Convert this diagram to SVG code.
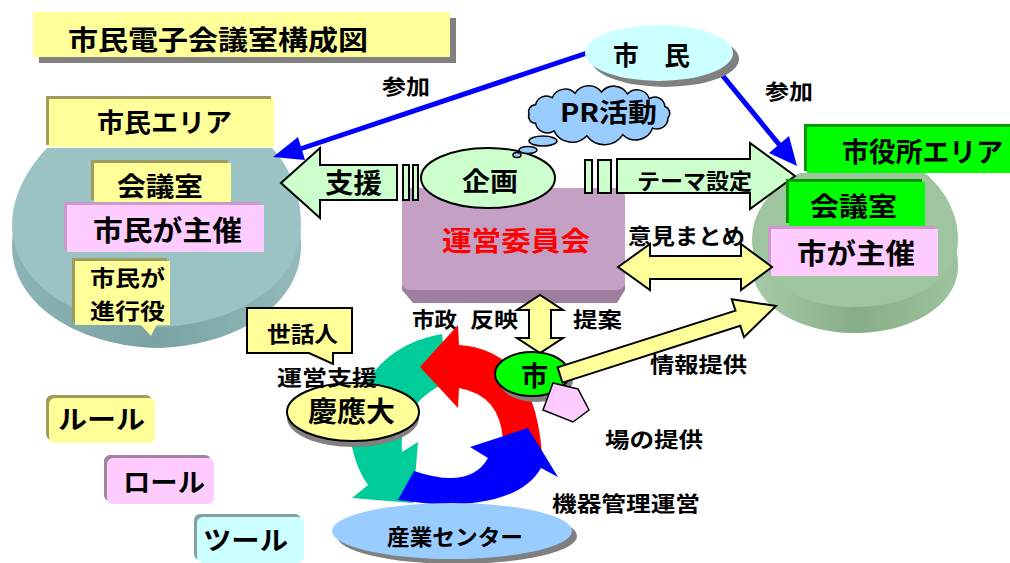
<svg xmlns="http://www.w3.org/2000/svg" width="1010" height="563" viewBox="0 0 1010 563">
<defs>
<style>
.t{font-family:"Noto Sans CJK JP","Noto Sans CJK SC",sans-serif;font-weight:700;fill:#000}
.ln{stroke:#000;stroke-width:2;stroke-linejoin:miter}
.yel{fill:#FFFF99}
.pnk{fill:#FFCCFF}
.lg{fill:#CCFFCC}
.olv{fill:#A09C5C}
.shd{fill:#808080}
.blue{stroke:#0000FF;stroke-width:5;fill:none}
</style>
<linearGradient id="rimL" x1="0" y1="0" x2="1" y2="0">
<stop offset="0" stop-color="#8DB4B4"/><stop offset="0.5" stop-color="#7AA2A2"/><stop offset="1" stop-color="#94BABA"/>
</linearGradient>
<linearGradient id="rimR" x1="0" y1="0" x2="1" y2="0">
<stop offset="0" stop-color="#A8CBA8"/><stop offset="0.5" stop-color="#86AE86"/><stop offset="1" stop-color="#9EC29E"/>
</linearGradient>
</defs>

<g id="citizen-area-disk">
<path transform="translate(0,21)" fill="url(#rimL)" d="M47,148 L272,148 C288,165 301,192 301,225 C301,285 235,325 157,327 C80,325 12,285 12,225 C12,195 28,168 47,148 Z"/>
<path fill="#9CC3C3" d="M47,148 L272,148 C288,165 301,192 301,225 C301,285 235,325 157,327 C80,325 12,285 12,225 C12,195 28,168 47,148 Z"/>
</g>
<g id="cityhall-area-disk">
<path transform="translate(0,26)" fill="url(#rimR)" d="M800,173 L925,173 C945,190 958,213 958,240 C958,280 910,307 855,307 C800,307 752,280 752,240 C752,213 768,190 800,173 Z"/>
<path fill="#9FC59F" d="M800,173 L925,173 C945,190 958,213 958,240 C958,280 910,307 855,307 C800,307 752,280 752,240 C752,213 768,190 800,173 Z"/>
</g>

<g id="title">
<rect class="shd" x="39" y="18" width="417" height="45"/>
<rect class="yel" x="33" y="12" width="417" height="45"/>
<text class="t" x="68" y="50" font-size="27" textLength="300" lengthAdjust="spacingAndGlyphs">市民電子会議室構成図</text>
</g>

<g id="connectors">
<line class="blue" x1="590" y1="52" x2="300" y2="149"/>
<polygon fill="#0000FF" points="273,157 305,160 298,137"/>
<line class="blue" x1="718" y1="70" x2="782" y2="148"/>
<polygon fill="#0000FF" points="797,166 789,136 769,153"/>
</g>

<g id="citizen">
<ellipse class="shd" cx="665" cy="59" rx="74" ry="28"/>
<ellipse fill="#CCFFFF" cx="659" cy="53" rx="74" ry="28"/>
<text class="t" x="613" y="65" font-size="26" textLength="77" lengthAdjust="spacingAndGlyphs">市　民</text>
</g>

<g id="label-sanka">
<text class="t" x="382" y="94" font-size="21" textLength="48" lengthAdjust="spacingAndGlyphs">参加</text>
<text class="t" x="765" y="99" font-size="21" textLength="48" lengthAdjust="spacingAndGlyphs">参加</text>
</g>

<g id="citizen-area">
<rect class="olv" x="46" y="96" width="225" height="49"/>
<rect class="yel" x="49" y="99" width="225" height="48"/>
<text class="t" x="97" y="132" font-size="26" textLength="135" lengthAdjust="spacingAndGlyphs">市民エリア</text>
</g>
<g id="citizen-room">
<rect class="olv" x="91" y="160" width="137" height="40"/>
<rect class="yel" x="94" y="163" width="137" height="40"/>
<text class="t" x="117" y="196" font-size="26" textLength="86" lengthAdjust="spacingAndGlyphs">会議室</text>
</g>
<g id="citizen-host">
<rect fill="#CC99CC" x="64" y="202" width="197" height="47"/>
<rect class="pnk" x="67" y="205" width="197" height="47"/>
<text class="t" x="93" y="241" font-size="28" textLength="149" lengthAdjust="spacingAndGlyphs">市民が主催</text>
</g>
<g id="citizen-facilitator">
<rect class="olv" x="72" y="258" width="95" height="64"/>
<rect class="yel" x="75" y="261" width="95" height="64"/>
<polygon class="yel" points="140,324 151,336 157,324"/>
<text class="t" x="90" y="286" font-size="22" textLength="75" lengthAdjust="spacingAndGlyphs">市民が</text>
<text class="t" x="90" y="319" font-size="22" textLength="75" lengthAdjust="spacingAndGlyphs">進行役</text>
</g>

<g id="committee">
<polygon fill="#9E7E9E" points="402,284 625,284 625,290 617,303 413,303 402,290"/>
<rect fill="#C4A0C4" x="402" y="188" width="223" height="102" rx="8"/>
<text x="442" y="251" font-size="27" class="t" style="fill:#FF0000" textLength="148" lengthAdjust="spacingAndGlyphs">運営委員会</text>
</g>

<g id="support-arrow">
<polygon class="lg ln" points="281,183 320,148 320,165 397,165 397,200 320,200 320,218"/>
<text class="t" x="325" y="193" font-size="27" textLength="57" lengthAdjust="spacingAndGlyphs">支援</text>
<rect class="lg ln" x="403" y="165" width="6" height="35"/>
<rect class="lg ln" x="413" y="165" width="5" height="35"/>
</g>

<g id="planning">
<ellipse class="lg ln" cx="488" cy="178" rx="67" ry="30"/>
<text class="t" x="462" y="191" font-size="26" textLength="56" lengthAdjust="spacingAndGlyphs">企画</text>
</g>

<g id="theme-arrow">
<rect class="lg ln" x="585" y="160" width="7" height="33"/>
<rect class="lg ln" x="598" y="160" width="13" height="33"/>
<polygon class="lg ln" points="617,159 750,159 750,143 795,176 750,209 750,193 617,193"/>
<text class="t" x="637" y="189" font-size="22" textLength="115" lengthAdjust="spacingAndGlyphs">テーマ設定</text>
</g>

<g id="pr-cloud">
<path fill="#99CCFF" stroke="#000" stroke-width="1.5" d="M529,114 A7,7 0 0 1 535.6,104.7 A11,11 0 0 1 552.2,97.7 A14,14 0 0 1 575.1,93.3 A16,16 0 0 1 601.4,92 A16,16 0 0 1 627.5,93.9 A13,13 0 0 1 649.3,98.7 A10,10 0 0 1 664.8,106.5 A7,7 0 0 1 668,117.8 A11,11 0 0 1 652.6,128.1 A18,18 0 0 1 622.9,134.7 A22,22 0 0 1 586.8,135.7 A20,20 0 0 1 554,130.9 A12,12 0 0 1 535.6,123.3 A7,7 0 0 1 529,114 Z"/>
<ellipse fill="#99CCFF" stroke="#000" stroke-width="1.5" cx="543" cy="141" rx="14" ry="5"/>
<ellipse fill="#99CCFF" stroke="#000" stroke-width="1.5" cx="528" cy="150" rx="9" ry="3.5"/>
<ellipse fill="#99CCFF" stroke="#000" stroke-width="1.5" cx="517" cy="155" rx="4" ry="2.5"/>
<text class="t" x="560" y="122" font-size="26" textLength="97" lengthAdjust="spacingAndGlyphs">PR活動</text>
</g>

<g id="cityhall-area">
<rect fill="#009900" x="804" y="124" width="210" height="47"/>
<rect fill="#00FF00" x="807" y="127" width="210" height="46"/>
<text class="t" x="842" y="162" font-size="27" textLength="161" lengthAdjust="spacingAndGlyphs">市役所エリア</text>
</g>
<g id="cityhall-room">
<rect fill="#009900" x="786" y="179" width="136" height="44"/>
<rect fill="#00FF00" x="789" y="182" width="136" height="44"/>
<text class="t" x="810" y="216" font-size="26" textLength="87" lengthAdjust="spacingAndGlyphs">会議室</text>
</g>
<g id="city-host">
<rect fill="#CC99CC" x="768" y="226" width="167" height="47"/>
<rect class="pnk" x="771" y="229" width="167" height="47"/>
<text class="t" x="797" y="264" font-size="28" textLength="118" lengthAdjust="spacingAndGlyphs">市が主催</text>
</g>

<g id="opinion-arrow">
<polygon class="yel ln" points="618,267 650,244 650,256 741,256 741,244 772,267 741,290 741,279 650,279 650,290"/>
<text class="t" x="628" y="244" font-size="22" textLength="117" lengthAdjust="spacingAndGlyphs">意見まとめ</text>
</g>

<g id="policy-arrow">
<polygon class="yel ln" points="540,295 563,310 551,310 551,338 563,338 540,353 517,338 529,338 529,310 517,310"/>
<text class="t" x="412" y="327" font-size="21" textLength="45" lengthAdjust="spacingAndGlyphs">市政</text>
<text class="t" x="470" y="327" font-size="21" textLength="48" lengthAdjust="spacingAndGlyphs">反映</text>
<text class="t" x="573" y="327" font-size="21" textLength="49" lengthAdjust="spacingAndGlyphs">提案</text>
</g>

<g id="cycle">
<path fill="#00CC99" d="M442,334 Q380,345 358,400 L352,447 Q357,470 368,485 L352,498 L413,503 L418,442 L402,452 Q398,405 447,382 Z"/>
<path fill="#FF0000" d="M420,367 L458,325 L459,345 Q535,350 542,455 L503,440 Q500,395 459,388 L458,408 Z"/>
<path fill="#0000FF" d="M528,428 L558,477 L541,468 Q520,505 440,505 L398,500 L414,471 Q470,490 488,458 L470,447 Z"/>
</g>

<g id="keio">
<ellipse class="shd" cx="353" cy="418" rx="66" ry="29"/>
<ellipse class="yel ln" cx="353" cy="412" rx="66" ry="29"/>
<text class="t" x="308" y="422" font-size="28" textLength="87" lengthAdjust="spacingAndGlyphs">慶應大</text>
</g>

<g id="caretaker">
<path class="yel ln" d="M247,308 H352 V353 H333 V364 L309,353 H247 Z"/>
<text class="t" x="267" y="342" font-size="22" textLength="71" lengthAdjust="spacingAndGlyphs">世話人</text>
<text class="t" x="277" y="385" font-size="21" textLength="100" lengthAdjust="spacingAndGlyphs">運営支援</text>
</g>

<g id="city">
<ellipse class="shd" cx="536" cy="380" rx="37" ry="22"/>
<ellipse fill="#00FF00" class="ln" cx="532" cy="374" rx="37" ry="22"/>
<text class="t" x="521" y="386" font-size="27" textLength="27" lengthAdjust="spacingAndGlyphs">市</text>
</g>

<g id="info-arrow">
<polygon class="yel ln" points="562.4,382.6 740.3,325.8 744,337.2 776,306 731.8,299.2 735.5,310.6 557.6,367.4"/>
<text class="t" x="650" y="372" font-size="21" textLength="97" lengthAdjust="spacingAndGlyphs">情報提供</text>
</g>

<g id="venue">
<polygon class="pnk" stroke="#000" stroke-width="1.5" points="553,383 578,389 589,410 573,422 543,410"/>
<text class="t" x="605" y="447" font-size="21" textLength="98" lengthAdjust="spacingAndGlyphs">場の提供</text>
</g>

<g id="industry-center">
<ellipse class="shd" cx="457" cy="536" rx="120" ry="28"/>
<ellipse fill="#99CCFF" cx="452" cy="531" rx="120" ry="28"/>
<text class="t" x="387" y="545" font-size="22" textLength="136" lengthAdjust="spacingAndGlyphs">産業センター</text>
<text class="t" x="552" y="511" font-size="21" textLength="148" lengthAdjust="spacingAndGlyphs">機器管理運営</text>
</g>

<g id="rule">
<rect class="olv" x="46" y="395" width="106" height="45" rx="6"/>
<rect class="yel" x="49" y="398" width="106" height="45" rx="6"/>
<text class="t" x="58" y="429" font-size="26" textLength="87" lengthAdjust="spacingAndGlyphs">ルール</text>
</g>
<g id="role">
<rect fill="#A383A3" x="104" y="455" width="107" height="46" rx="6"/>
<rect class="pnk" x="107" y="458" width="107" height="46" rx="6"/>
<text class="t" x="123" y="492" font-size="26" textLength="82" lengthAdjust="spacingAndGlyphs">ロール</text>
</g>
<g id="tool">
<rect fill="#83A3A3" x="194" y="514" width="107" height="46" rx="6"/>
<rect fill="#CCFFFF" x="197" y="517" width="107" height="46" rx="6"/>
<text class="t" x="203" y="550" font-size="26" textLength="85" lengthAdjust="spacingAndGlyphs">ツール</text>
</g>
</svg>
